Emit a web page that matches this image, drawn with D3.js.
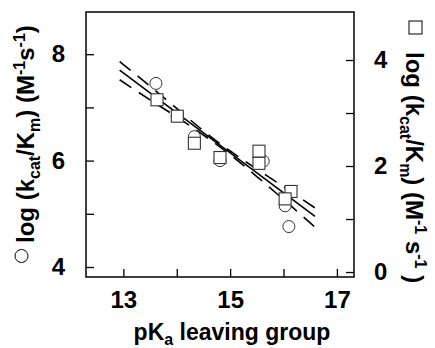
<!DOCTYPE html>
<html><head><meta charset="utf-8">
<script src="https://cdn.jsdelivr.net/npm/d3@7"></script>
<style>body{margin:0;background:#fff}svg{display:block}</style>
</head><body><div id="chart"></div>
<script>
// ---- data ----
const circlePKa = [13.61, 14.01, 14.33, 14.81, 15.62, 16.03, 16.10];
const circleLogK = [7.45, 6.84, 6.45, 6.00, 5.99, 5.15, 4.76];   // left axis
const squarePKa = [13.63, 14.01, 14.33, 14.81, 15.54, 15.54, 16.14, 16.03];
const squareLogK = [3.25, 2.94, 2.43, 2.16, 2.28, 2.05, 1.52, 1.38]; // right axis
const fitPKa = [12.93, 16.59];
const fitLogK = [7.70, 4.95];
const bandPKa = [12.93, 13.5, 14.0, 14.5, 15.0, 15.5, 16.0, 16.59];
const bandUpper = [7.86, 7.40, 6.98, 6.56, 6.18, 5.84, 5.51, 5.11];
const bandLower = [7.52, 7.14, 6.82, 6.48, 6.11, 5.70, 5.27, 4.75];
const xTicks = [13, 14, 15, 16, 17];
const xTickLabels = ["13", "", "15", "", "17"];
const yLeftTicks = [4, 5, 6, 7, 8];
const yLeftTickLabels = ["4", "", "6", "", "8"];
const yRightTicks = [0, 1, 2, 3, 4];
const yRightTickLabels = ["0", "", "2", "", "4"];

// ---- drawing ----
const W = 435, H = 348;
const L = 86, R = 354, T = 12, B = 277;
const FONT = "'Liberation Sans', Arial, Helvetica, sans-serif";
const svg = d3.select("#chart").append("svg").attr("width", W).attr("height", H)
  .style("font-family", FONT).style("font-weight", "bold");

const x = d3.scaleLinear().domain([12.3, 17.32]).range([L, R]);
const yL = d3.scaleLinear().domain([3.812, 8.793]).range([B, T]);
const yR = d3.scaleLinear().domain([-0.094, 4.906]).range([B, T]);

// frame
svg.append("rect").attr("x", L).attr("y", T).attr("width", R - L).attr("height", B - T)
  .attr("fill", "none").attr("stroke", "#000").attr("stroke-width", 1.5);

const tickLen = 8;
const axB = svg.append("g").attr("transform", `translate(0,${B})`)
  .call(d3.axisBottom(x).tickValues(xTicks).tickSizeInner(-tickLen).tickSizeOuter(0)
    .tickPadding(14).tickFormat((d, i) => xTickLabels[i]));
const axL = svg.append("g").attr("transform", `translate(${L},0)`)
  .call(d3.axisLeft(yL).tickValues(yLeftTicks).tickSizeInner(-tickLen).tickSizeOuter(0)
    .tickPadding(21).tickFormat((d, i) => yLeftTickLabels[i]));
const axR = svg.append("g").attr("transform", `translate(${R},0)`)
  .call(d3.axisRight(yR).tickValues(yRightTicks).tickSizeInner(-tickLen).tickSizeOuter(0)
    .tickPadding(20).tickFormat((d, i) => yRightTickLabels[i]));
[axB, axL, axR].forEach(a => {
  a.select(".domain").remove();
  a.selectAll(".tick line").attr("stroke", "#000").attr("stroke-width", 1.3);
  a.selectAll(".tick text").attr("fill", "#000").style("font-family", FONT)
    .style("font-weight", "bold").style("font-size", "24px");
});

// fit line and confidence bands
const lineGen = d3.line().x(d => x(d[0])).y(d => yL(d[1]));
const bandLine = d3.line().curve(d3.curveMonotoneX).x(d => x(d[0])).y(d => yL(d[1]));
svg.append("path").datum(fitPKa.map((v, i) => [v, fitLogK[i]]))
  .attr("d", lineGen).attr("fill", "none").attr("stroke", "#000").attr("stroke-width", 1.6);
[bandUpper, bandLower].forEach(b => {
  svg.append("path").datum(bandPKa.map((v, i) => [v, b[i]]))
    .attr("d", bandLine).attr("fill", "none").attr("stroke", "#000")
    .attr("stroke-width", 1.6).attr("stroke-dasharray", "14,9");
});

// points
svg.append("g").selectAll("circle").data(circlePKa).join("circle")
  .attr("cx", d => x(d)).attr("cy", (d, i) => yL(circleLogK[i])).attr("r", 6)
  .attr("fill", "#fff").attr("stroke", "#333").attr("stroke-width", 1);
const s = 12;
svg.append("g").selectAll("rect").data(squarePKa).join("rect")
  .attr("x", d => x(d) - s / 2).attr("y", (d, i) => yR(squareLogK[i]) - s / 2)
  .attr("width", s).attr("height", s)
  .attr("fill", "#fff").attr("stroke", "#333").attr("stroke-width", 1.1);

// x label
const xl = svg.append("text").attr("x", (L + R) / 2 + 12).attr("y", 340).attr("text-anchor", "middle")
  .style("font-size", "23px");
xl.append("tspan").text("pK");
xl.append("tspan").attr("dy", 5).style("font-size", "16px").text("a");
xl.append("tspan").attr("dy", -5).text(" leaving group");

function unitLabel(t, spaced) {
  const sub = 6, sup = -9;
  t.append("tspan").text("log (k");
  t.append("tspan").attr("dy", sub).style("font-size", "16px").text("cat");
  t.append("tspan").attr("dy", -sub).text("/K");
  t.append("tspan").attr("dy", sub).style("font-size", "16px").text("m");
  t.append("tspan").attr("dy", -sub).text(") (M");
  t.append("tspan").attr("dy", sup).style("font-size", "16px").text("-1");
  t.append("tspan").attr("dy", -sup).text(spaced ? " s" : "s");
  t.append("tspan").attr("dy", sup).style("font-size", "16px").text("-1");
  t.append("tspan").attr("dy", -sup).text(spaced ? " )" : ")");
}
// left y label
svg.append("circle").attr("cx", 21.5).attr("cy", 256).attr("r", 6.5)
  .attr("fill", "#fff").attr("stroke", "#000").attr("stroke-width", 1);
const yl = svg.append("text").attr("transform", "translate(34,243) rotate(-90)")
  .attr("text-anchor", "start").style("font-size", "24px");
unitLabel(yl, false);
// right y label
svg.append("rect").attr("x", 409).attr("y", 21).attr("width", 13).attr("height", 13)
  .attr("fill", "#fff").attr("stroke", "#000").attr("stroke-width", 1);
const yr = svg.append("text").attr("transform", "translate(406,52) rotate(90)")
  .attr("text-anchor", "start").style("font-size", "24px");
unitLabel(yr, true);
</script></body></html>
